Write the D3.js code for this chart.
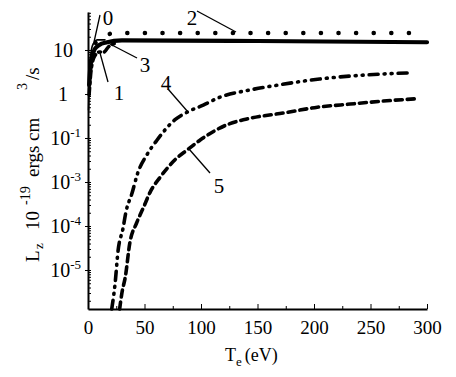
<!DOCTYPE html>
<html>
<head>
<meta charset="utf-8">
<script src="https://cdn.jsdelivr.net/npm/d3@7"></script>
<style>
  body { margin: 0; background: #fff; }
  svg { font-family: "Liberation Serif", "DejaVu Serif", serif; }
</style>
</head>
<body>
<script>
// Te in eV, Lz in units of 1e-19 erg cm^3/s
const t0 = [0.5, 1.5, 3, 5, 8, 15];
const l0 = [0.43, 3.5, 10, 14.4, 17, 17];

const t1 = [1, 3, 6, 10, 14, 18, 25];
const l1 = [0.95, 3.9, 7.3, 9, 9, 11.7, 14.4];

const t2 = [3, 6, 10, 16, 25, 100, 200, 285];
const l2 = [5.9, 13, 18.7, 21.9, 24.4, 24.4, 24.4, 24.4];

const t3 = [1, 2, 3.5, 6, 10, 16, 30, 150, 300];
const l3 = [1.6, 3.9, 6.9, 10.5, 13, 14.8, 16.5, 16, 15];

const t4 = [21, 24, 26.5, 31, 33.6, 39, 44, 52, 61, 77, 88, 102, 117, 143, 167, 205, 258, 285];
const l4 = [1.3e-5, 5.0e-5, 2.6e-4, 8.9e-4, 2.1e-3, 5.6e-3, 0.016, 0.041, 0.089, 0.26, 0.39, 0.56, 0.85, 1.23, 1.58, 2.19, 2.82, 3.02];

const t5 = [28, 30, 33, 37, 43, 49, 55, 64, 77, 88, 99, 123, 143, 173, 203, 232, 261, 291];
const l5 = [1.3e-5, 3.0e-5, 6.9e-5, 4.1e-4, 1.17e-3, 2.6e-3, 5.9e-3, 0.013, 0.032, 0.054, 0.089, 0.20, 0.28, 0.37, 0.50, 0.59, 0.69, 0.78];

const xTicks = [0, 50, 100, 150, 200, 250, 300];
const xMinor = [25, 75, 125, 175, 225, 275];
const yTicks = [10, 1, 0.1, 0.01, 0.001, 1e-4];
const yTickBase = ["10", "1", "10", "10", "10", "10"];
const yTickExp = ["", "", "-1", "-3", "-4", "-5"];

const curveNames = ["0", "1", "2", "3", "4", "5"];

const svg = d3.select("body").append("svg").attr("width", 456).attr("height", 377);

const x = d3.scaleLinear().domain([0, 300]).range([88, 427]);
const y = d3.scaleLog().domain([1.3e-5, 73]).range([309, 12]);

// x axis
svg.append("g").attr("transform", "translate(0,309)")
  .call(d3.axisBottom(x).tickValues(xTicks).tickSizeInner(-5).tickSizeOuter(0).tickPadding(12))
  .call(g => g.select(".domain").attr("stroke-width", 2))
  .call(g => g.selectAll("text").attr("font-size", 19).attr("font-family", "Liberation Serif").attr("fill", "#000"));
svg.append("g").attr("transform", "translate(0,309)")
  .call(d3.axisBottom(x).tickValues(xMinor).tickSize(-3).tickFormat(""))
  .call(g => g.select(".domain").remove());

// y axis
svg.append("g").attr("transform", "translate(88,0)")
  .call(d3.axisLeft(y).tickValues(yTicks).tickSizeInner(3).tickSizeOuter(0).tickFormat(""))
  .call(g => g.select(".domain").attr("stroke-width", 2));
const minor = [];
for (let e = -5; e <= 1; e++) for (let m = 1; m <= 9; m++) {
  const v = m * Math.pow(10, e);
  if (v >= 1.3e-5 && v <= 73) minor.push(v);
}
svg.append("g").attr("transform", "translate(88,0)")
  .call(d3.axisRight(y).tickValues(minor).tickSize(3).tickFormat(""))
  .call(g => g.select(".domain").remove());

const yl = svg.append("g").selectAll("text").data(yTicks).enter().append("text")
  .attr("font-size", 20)
  .attr("y", d => y(d) + 7)
  .attr("x", (d, i) => yTickExp[i] ? 81 : 63)
  .attr("text-anchor", (d, i) => yTickExp[i] ? "end" : "middle");
yl.append("tspan").text((d, i) => yTickBase[i]);
yl.append("tspan").attr("font-size", 13).attr("dy", -8).text((d, i) => yTickExp[i]);

// curves
const line = d3.line().x(d => x(d[0])).y(d => y(d[1])).curve(d3.curveMonotoneX);
const series = [
  { t: t0, l: l0, w: 1.6, dash: null },
  { t: t1, l: l1, w: 3.5, dash: "7,4,2,4" },
  { t: t2, l: l2, w: 4.5, dash: "0.1,17.5" },
  { t: t3, l: l3, w: 4.2, dash: null },
  { t: t4, l: l4, w: 3.6, dash: "9,6,1,6,1,6" },
  { t: t5, l: l5, w: 3.6, dash: "7,5" }
];
svg.append("g").selectAll("path").data(series).enter().append("path")
  .attr("d", s => line(s.t.map((t, i) => [t, s.l[i]])))
  .attr("fill", "none").attr("stroke", "#000")
  .attr("stroke-width", s => s.w)
  .attr("stroke-linecap", "round")
  .attr("stroke-dasharray", s => s.dash);

// curve labels with pointer lines
const labelPos = [[108, 25], [119, 100], [192, 25], [145, 72], [166, 90], [219, 193]];
const pointer = [[100, 15, 94, 42], [108, 82, 100, 53], [197, 11, 236, 32], [137, 58, 110, 44], [168, 89, 188, 112], [210, 173, 189, 149]];
svg.append("g").selectAll("line").data(pointer).enter().append("line")
  .attr("x1", d => d[0]).attr("y1", d => d[1]).attr("x2", d => d[2]).attr("y2", d => d[3])
  .attr("stroke", "#000").attr("stroke-width", 1.3);
svg.append("g").selectAll("text").data(curveNames).enter().append("text")
  .attr("x", (d, i) => labelPos[i][0]).attr("y", (d, i) => labelPos[i][1])
  .attr("text-anchor", "middle").attr("font-size", 21).text(d => d);

// axis titles
const xt = svg.append("text").attr("x", 225).attr("y", 361).attr("font-size", 18);
xt.append("tspan").text("T");
xt.append("tspan").attr("font-size", 13).attr("dy", 5).text("e");
xt.append("tspan").attr("dy", -5).attr("dx", 3).text("(eV)");

const yt = svg.append("text").attr("transform", "translate(39,262) rotate(-90)").attr("font-size", 19);
yt.append("tspan").attr("x", 0).text("L");
yt.append("tspan").attr("x", 13).attr("dy", 4).attr("font-size", 13).text("z");
yt.append("tspan").attr("x", 32).attr("dy", -4).text("10");
yt.append("tspan").attr("x", 57).attr("dy", -9).attr("font-size", 14).text("-19");
yt.append("tspan").attr("x", 85).attr("dy", 9).text("ergs cm");
yt.append("tspan").attr("x", 172).attr("dy", -12).attr("font-size", 14).text("3");
yt.append("tspan").attr("x", 182).attr("dy", 12).text("/s");
</script>
</body>
</html>
